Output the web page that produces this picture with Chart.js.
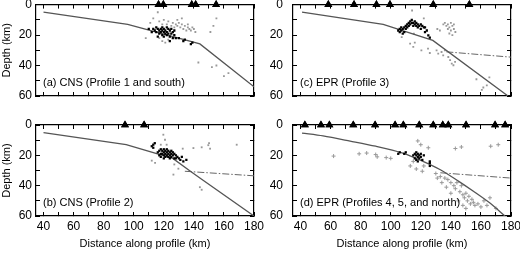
<!DOCTYPE html>
<html><head><meta charset="utf-8">
<script src="https://cdn.jsdelivr.net/npm/chart.js@4/dist/chart.umd.min.js"></script>
<style>
body{margin:0;background:#fff;width:520px;height:257px;overflow:hidden;position:relative}
canvas{position:absolute}
</style></head><body>
<canvas id="ca" width="275" height="105" style="left:0;top:0"></canvas>
<canvas id="cc" width="258" height="105" style="left:262px;top:0"></canvas>
<canvas id="cb" width="275" height="142" style="left:0;top:115px"></canvas>
<canvas id="cd" width="258" height="142" style="left:262px;top:115px"></canvas>
<script>
// ---- tick labels ----
const xTickLabels = [40,60,80,100,120,140,160,180];
const yTickLabels = [0,20,40,60];
const xMinorTicks = [40,50,60,70,80,90,100,110,120,130,140,150,160,170,180];
const yMinorTicks = [0,10,20,30,40,50,60];
const panelTitles = ["(a) CNS (Profile 1 and south)","(b) CNS (Profile 2)","(c) EPR (Profile 3)","(d) EPR (Profiles 4, 5, and north)"];

// ---- panel (a) ----
const slabA = [[40,5],[96,13],[144,25.8],[180,54]];
const stationsA = [116.5,119.7,138.6,141.2,154.8];
const blackA = [[112,18],[113,16],[114,17],[115,15],[115,18],[116,16],[117,17],[117,19],[118,16],[118,18],[119,15],[119,17],[119,20],[120,16],[120,18],[120,21],[121,17],[121,19],[122,15],[122,18],[122,20],[123,16],[123,19],[124,17],[124,21],[125,16],[125,19],[126,18],[126,22],[127,17],[127,20],[128,22],[130,22],[133,24],[134,23],[138,26],[139,25],[110,16],[116,21],[124,24]];
const grayA = [[108,22],[111,12],[113,9],[116,5],[117,11],[119,13],[120,10],[122,13],[123,11],[125,14],[126,12],[127,15],[128,13],[129,14],[130,12],[131,15],[132,13],[133,16],[134,14],[135,17],[136,15],[137,16],[138,17],[139,15],[140,16],[141,18],[136,13],[129,10],[132,9],[119,24],[121,25],[117,22],[123,23],[151,18],[153,14],[155,9],[143,38],[152,41],[155,40],[160,47],[163,45]];

// ---- panel (b) ----
const slabB = [[40,5],[95,13],[126,22],[137,30],[144,35],[180,60]];
const dashB = [[134,30.5],[180,33.5]];
const stationsB = [94.2,106.9];
const blackB = [[112,14],[113,13],[113,15],[114,12],[116,18],[117,17],[117,20],[118,16],[118,19],[118,21],[119,17],[119,19],[120,16],[120,18],[120,20],[120,22],[121,17],[121,19],[121,21],[122,16],[122,18],[122,20],[123,17],[123,19],[123,21],[124,18],[124,20],[124,22],[125,17],[125,19],[125,21],[126,18],[126,20],[127,19],[127,22],[128,20],[128,22],[129,21],[130,22],[131,23],[132,21],[133,24],[135,23]];
const grayB = [[119.7,6.4],[120.8,9.7],[121.9,13],[118,13],[112,23.5],[114.2,25],[126.4,32.7],[129.7,28.8],[132.6,15.6],[139.7,15.2],[145.2,14.7],[149.6,13.3],[150.8,15.6],[150.1,11.9],[168.5,13],[144,41],[145.2,42.7],[127,26]];

// ---- panel (c) ----
const slabC = [[41,5],[95,13],[128,23.5],[178,60]];
const dashC = [[137,31],[180,34.5]];
const stationsC = [58.5,75.6,90.5,99.5,128.3,152.3];
const blackC = [[105,17],[106,16],[106,18],[107,15],[107,17],[108,16],[109,15],[109,18],[110,14],[110,16],[111,13],[111,15],[112,12],[112,14],[113,11],[113,13],[114,10],[114,12],[115,12],[115,14],[116,11],[116,13],[117,12],[117,14],[118,15],[118,13],[119,14],[120,13],[120,16],[121,14],[122,15],[122.8,14.9],[122.8,18],[124,17],[125,20.2],[126,21.7],[108,19]];
const grayC = [[114.2,3.9],[107.3,21.3],[115.4,19.1],[122,9],[136,12],[137,14],[138,13],[139,15],[140,12],[140,17],[141,14],[142,16],[142,13],[143,18],[141,20],[139,19],[138,16],[132.7,17],[135,13],[131,16],[112.9,25.6],[115,27.8],[116,25],[120.4,30],[124.8,28.9],[126,31.8],[130.5,30],[131.6,32.2],[133.8,31.1],[134.9,33.3],[136,30],[138.3,34.4],[139.5,36.5],[140.6,38.7],[141.7,39.8],[142.8,37.6],[157,49],[160.6,56],[161.6,54.4],[163.9,53],[165.6,47.8]];

// ---- panel (d) ----
const slabD = [[41,5.3],[55,7.2],[73,10.6],[90,14],[108,18.5],[120,23.3],[133,29.5],[145,37],[155,43.7],[166,51.5],[176,60]];
const dashD = [[133,31.5],[180,35]];
const stationsD = [42.9,53.6,59.2,75.1,89.6,102.9,108.4,119.0,128.3,134.6,138.3,150.1,169.4,176.1];
const blackD = [[105,19],[106,18],[109,19],[110,18],[115,20],[116,19],[116,22],[117,18],[117,20],[117,23],[118,19],[118,21],[118,24],[119,20],[119,22],[120,19],[120,21],[121,23],[122,20],[126,24],[126,27],[126,25]];
const grayD = [[62,20.5],[79,19],[84,18.5],[90,19.5],[91,21],[97,21.5],[100,22],[118,10.5],[120,13],[125,15],[143,15.5],[147,14.5],[166.5,14],[171.5,13],[113,27],[117,29],[121,30.5],[115,24],[122,27],[130,32],[133,34],[136,35],[138,36],[140,38],[142,40],[143,42],[144,38],[146,44],[147,40],[148,46],[149,48],[150,45],[151,50],[152,47],[153,52],[154,49],[155,51],[156,53],[158,52],[160,54],[162,50],[164,53],[166,48],[170,55],[145,50],[148,53],[150,55],[140,45],[137,41],[134,38],[131,35]];

const FONT = "'Liberation Sans', Arial, Helvetica, sans-serif";
const pts = a => a.map(p => ({x:p[0], y:p[1]}));
const sta = a => a.map(v => ({x:v, y:0}));

const labelPlugin = {
  id: 'panelLabel',
  afterDraw(chart, args, opts) {
    const ctx = chart.ctx, ca = chart.chartArea;
    ctx.save();
    ctx.font = '11px ' + FONT;
    ctx.fillStyle = '#000';
    ctx.textBaseline = 'middle';
    ctx.fillText(opts.label, ca.left + 7, ca.bottom - 13);
    ctx.restore();
    chart.getDatasetMeta(0).data.forEach(el => el.draw(ctx));
  }
};

const GRID = {display:true, drawOnChartArea:false, drawTicks:true, tickLength:-4, color:'#000', lineWidth:1};
const BORDER = {display:true, color:'#000', width:1.2};
const noPad = s => { s.paddingTop = 0; s.paddingBottom = 0; s.paddingLeft = 0; s.paddingRight = 0; };

function xAxis(pos, showLabels) {
  return {
    type:'linear', position:pos, min:35, max:180, display:true,
    afterBuildTicks: s => { s.ticks = xMinorTicks.map(v => ({value:v})); },
    afterFit: s => { s.height = showLabels ? 41 : 0; noPad(s); },
    grid: {...GRID}, border: {...BORDER},
    ticks: {color:'#000', font:{size:12, family:FONT}, padding:7, maxRotation:0, minRotation:0, autoSkip:false,
            callback: v => (showLabels && xTickLabels.includes(v)) ? String(v) : ''},
    title: {display:showLabels, text:'Distance along profile (km)', color:'#000', font:{size:11, family:FONT}, padding:{top:0,bottom:6}}
  };
}
function yAxis(pos, showLabels, w, pad, showTitle) {
  return {
    type:'linear', position:pos, min:0, max:60, reverse:true, display:true,
    afterBuildTicks: s => { s.ticks = yMinorTicks.map(v => ({value:v})); },
    afterFit: s => { s.width = w; noPad(s); },
    grid: {...GRID}, border: {...BORDER},
    ticks: {color:'#000', font:{size:12, family:FONT}, padding:pad, autoSkip:false,
            callback: v => (showLabels && yTickLabels.includes(v)) ? String(v) : ''},
    title: {display:showTitle, text:'Depth (km)', color:'#000', font:{size:11, family:FONT}, padding:0}
  };
}

function makeChart(id, o) {
  const datasets = [
    {data: sta(o.stations), pointStyle:'triangle', pointRadius:4.6, backgroundColor:'#000', borderColor:'#000', borderWidth:0, clip:false, showLine:false},
    {data: pts(o.black), pointStyle:'rect', pointRadius:1.6, backgroundColor:'#000', borderColor:'#000', borderWidth:0, showLine:false},
    {data: pts(o.slab), showLine:true, pointRadius:0, borderColor:'#555', borderWidth:1.3, tension:o.tension||0, fill:false},
  ];
  if (o.dash) datasets.push({data: pts(o.dash), showLine:true, pointRadius:0, borderColor:'#666', borderWidth:1, borderDash:[7,2,1.5,2], fill:false});
  datasets.push(o.cross
    ? {data: pts(o.gray), pointStyle:'cross', pointRadius:2, borderColor:'#999', borderWidth:1, backgroundColor:'#999', showLine:false}
    : {data: pts(o.gray), pointStyle:'rect', pointRadius:1.3, backgroundColor:'#999', borderColor:'#999', borderWidth:0, showLine:false});
  return new Chart(document.getElementById(id), {
    type: 'scatter',
    data: {datasets},
    plugins: [labelPlugin],
    options: {
      responsive: false, animation: false, events: [],
      layout: {padding: {left:0, right:o.padR, top:o.padT, bottom:o.padB}},
      plugins: {legend:{display:false}, tooltip:{enabled:false}, panelLabel:{label:o.label}},
      scales: {
        x: xAxis('bottom', o.showX),
        x2: xAxis('top', false),
        y: yAxis('left', true, o.yw, o.yPad, o.yTitle),
        y2: yAxis('right', false, 0, 0, false)
      }
    }
  });
}

makeChart('ca', {slab:slabA, stations:stationsA, black:blackA, gray:grayA, label:panelTitles[0], padR:21, padT:4, padB:9, showX:false, yw:36, yPad:8, yTitle:true});
makeChart('cb', {slab:slabB, dash:dashB, stations:stationsB, black:blackB, gray:grayB, label:panelTitles[1], padR:21, padT:10, padB:0, showX:true, yw:36, yPad:8, yTitle:true});
makeChart('cc', {slab:slabC, dash:dashC, stations:stationsC, black:blackC, gray:grayC, label:panelTitles[2], padR:9, padT:4, padB:9, showX:false, yw:31, yPad:14, yTitle:false});
makeChart('cd', {slab:slabD, dash:dashD, stations:stationsD, black:blackD, gray:grayD, cross:true, tension:0.3, label:panelTitles[3], padR:9, padT:10, padB:0, showX:true, yw:31, yPad:14, yTitle:false});
</script>
</body></html>
